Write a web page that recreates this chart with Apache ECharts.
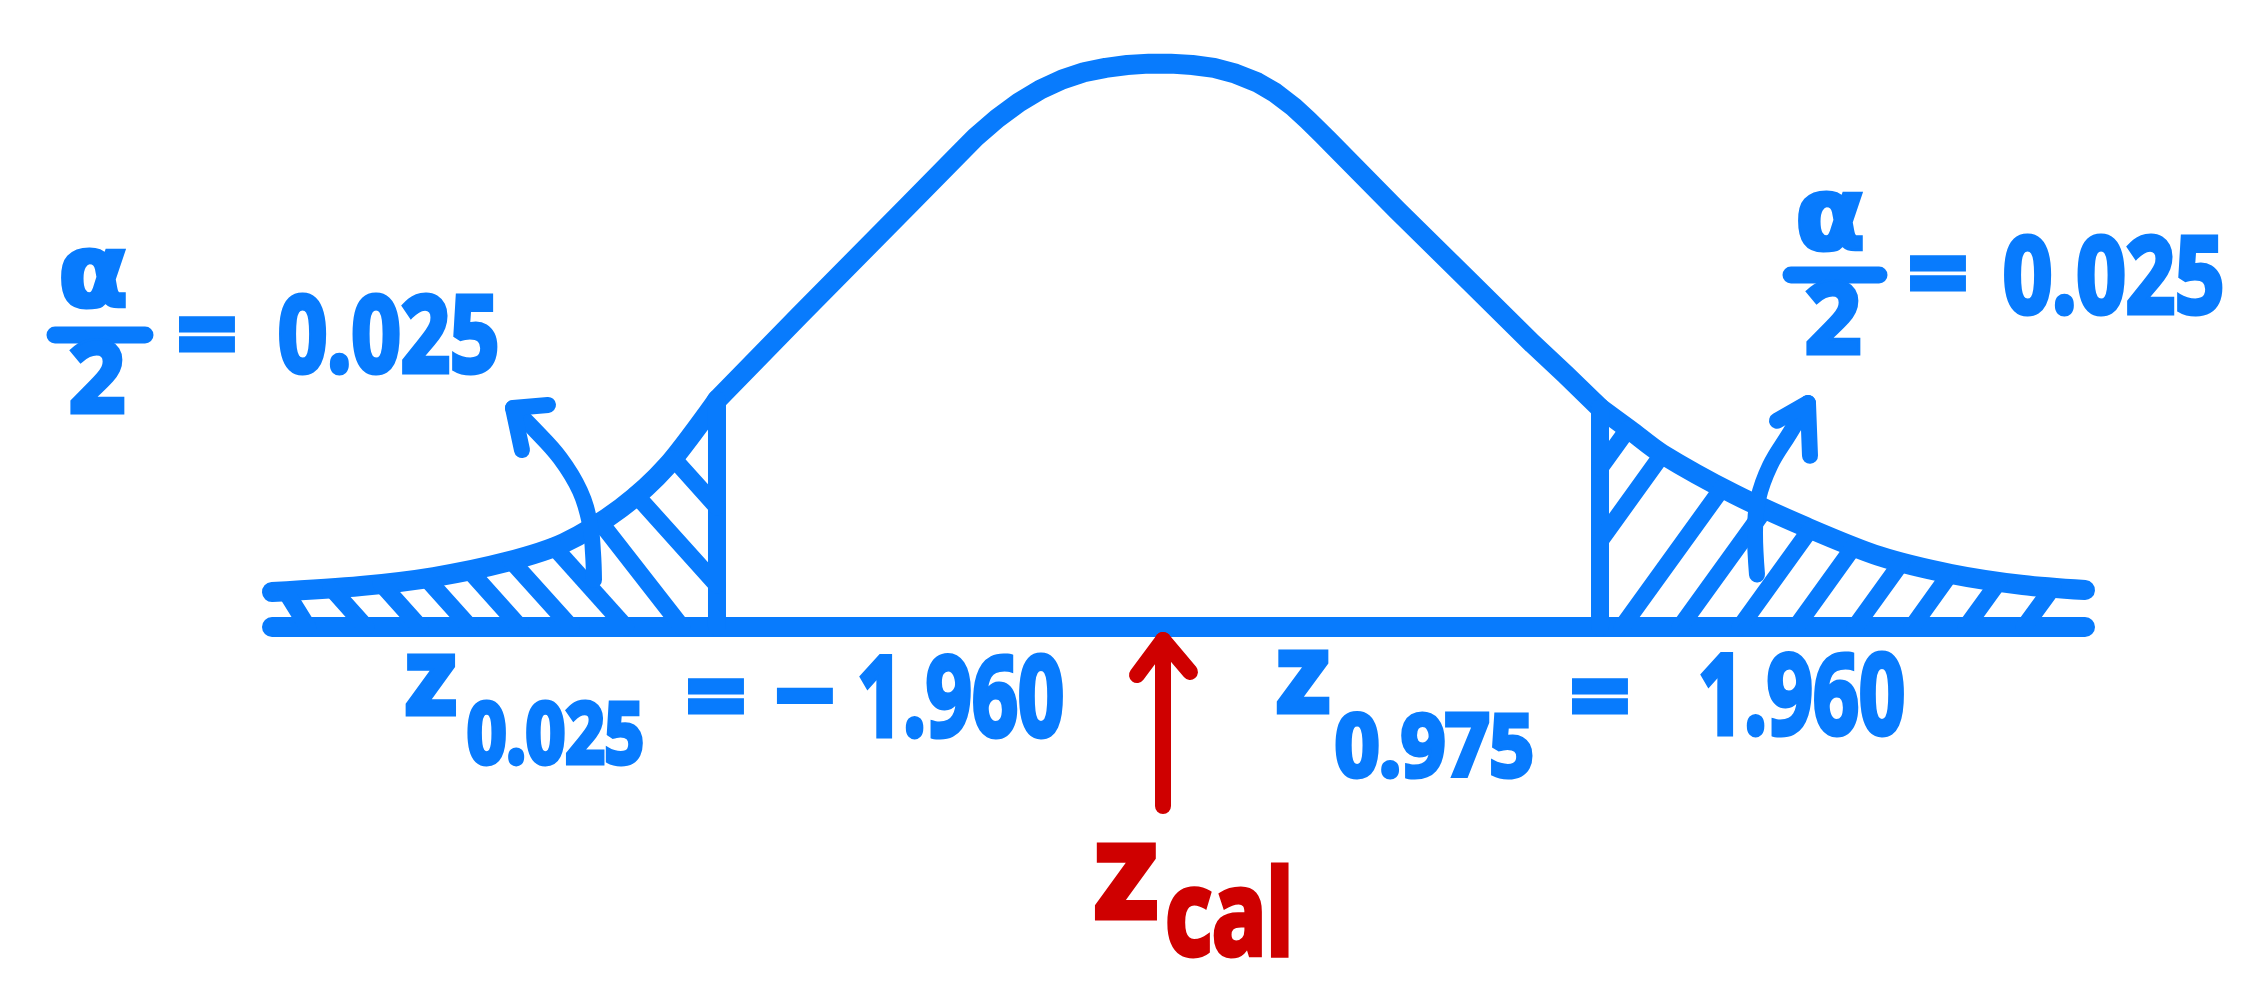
<!DOCTYPE html>
<html>
<head>
<meta charset="utf-8">
<script src="https://cdn.jsdelivr.net/npm/echarts@6/dist/echarts.min.js"></script>
<style>html,body{margin:0;padding:0;background:#ffffff}#c{width:2266px;height:1000px}</style>
</head>
<body>
<div id="c"></div>
<script>
const BLUE = '#087bfd';
const RED = '#cf0000';
const FONT = '"Noto Sans", "DejaVu Sans", sans-serif';
const GREEK_FONT = '"DejaVu Sans", "Noto Sans", sans-serif';

// hand-drawn bell curve: z value and height (density units)
const curveZ = [-3.9355,-3.5404,-3.2163,-2.8967,-2.6392,-2.3861,-2.1819,-1.96,-1.5915,-1.1032,
  -0.8892,-0.8124,-0.7161,-0.6197,-0.5238,-0.4275,-0.3312,-0.2348,-0.1385,-0.0426,0.0537,0.15,0.2464,0.3423,0.4386,0.5158,0.5993,0.6632,0.7276,0.7596,
  1.0588,1.3695,1.6625,1.8046,1.96,2.0931,2.2352,2.5548,2.8745,3.1985,3.5182,3.8378,4.113];
const curveDensity = [0.025,0.0293,0.0357,0.0464,0.06,0.085,0.115,0.1621,0.2229,0.3023,
  0.3374,0.3498,0.3632,0.3746,0.3839,0.3911,0.3962,0.3994,0.4014,0.4024,0.4024,0.4014,0.3994,0.3952,0.389,0.3818,0.3715,0.3621,0.3519,0.3467,
  0.2979,0.2486,0.2021,0.1807,0.1564,0.1407,0.1236,0.095,0.0714,0.0507,0.0379,0.03,0.0264];

// critical values
const criticalZ = [-1.96, 1.96];
const criticalTop = [0.1621, 0.1564];

// hatching of the rejection regions (segment ends)
const leftHatchTopZ = [-3.8751,-3.6735,-3.4516,-3.2518,-3.0622,-2.8744,-2.6858,-2.4816,-2.3209,-2.154];
const leftHatchTopD = [0.0256,0.0279,0.0311,0.035,0.0409,0.0475,0.0576,0.0755,0.0946,0.1204];
const leftHatchEndZ = [-3.7766,-3.5182,-3.2785,-3.0565,-2.8344,-2.6081,-2.3647,-2.1155,-1.96,-1.96];
const leftHatchEndD = [0,0,0,0,0,0,0,0,0.03,0.0857];
const rightHatchTopZ = [2.0856,2.237,2.5038,2.6947,2.8945,3.0876,3.3007,3.5137,3.7312,3.971];
const rightHatchTopD = [0.1416,0.1234,0.0995,0.0846,0.0699,0.0576,0.0466,0.0379,0.0326,0.0284];
const rightHatchEndZ = [1.96,1.96,2.0576,2.3151,2.5814,2.83,3.092,3.345,3.5847,3.8422];
const rightHatchEndD = [0.1136,0.0614,0,0,0,0,0,0,0,0];

// annotation arrows pointing at the tail areas
const leftArrowShaftZ = [-2.8656,-2.7768,-2.6569,-2.5681,-2.5237,-2.5104,-2.506];
const leftArrowShaftD = [0.1564,0.1421,0.1207,0.0971,0.0736,0.0529,0.0336];
const leftArrowHeadZ = [-2.7102,-2.8656,-2.8257];
const leftArrowHeadD = [0.1586,0.1564,0.1264];
const rightArrowShaftZ = [2.8833,2.8034,2.7146,2.6614,2.648,2.6569];
const rightArrowShaftD = [0.16,0.1386,0.1152,0.0911,0.0671,0.0375];
const rightArrowHeadZ = [2.7457,2.8833,2.8922];
const rightArrowHeadD = [0.1473,0.16,0.1223];

// z calculated marker
const zcalValue = 0.02;
const zcalArrowD = [-0.0093, -0.1279];
const zcalHeadZ = [-0.0954, 0.02, 0.1398];
const zcalHeadD = [-0.0343, -0.0093, -0.0321];

const pairs = (xs, ys) => xs.map((x, i) => [x, ys[i]]);
function lineSeries(data, color, width, smooth) {
  return {
    type: 'line', data: data, symbol: 'none', smooth: smooth || false,
    clip: false, silent: true, animation: false,
    lineStyle: { color: color, width: width, cap: 'round', join: 'round' }
  };
}

const iL = curveZ.indexOf(criticalZ[0]);
const iR = curveZ.indexOf(criticalZ[1]);

const series = [];
series.push(lineSeries([[curveZ[0], 0], [curveZ[curveZ.length - 1], 0]], BLUE, 20));
series.push(lineSeries(pairs(curveZ.slice(0, iL + 1), curveDensity.slice(0, iL + 1)), BLUE, 20, 0.3));
series.push(lineSeries(pairs(curveZ.slice(iL, iR + 1), curveDensity.slice(iL, iR + 1)), BLUE, 20));
series.push(lineSeries(pairs(curveZ.slice(iR), curveDensity.slice(iR)), BLUE, 20, 0.3));
criticalZ.forEach((z, i) => series.push(lineSeries([[z, 0], [z, criticalTop[i]]], BLUE, 18)));
leftHatchTopZ.forEach((z, i) => series.push(lineSeries([[z, leftHatchTopD[i]], [leftHatchEndZ[i], leftHatchEndD[i]]], BLUE, 17)));
rightHatchTopZ.forEach((z, i) => series.push(lineSeries([[z, rightHatchTopD[i]], [rightHatchEndZ[i], rightHatchEndD[i]]], BLUE, 17)));
series.push(lineSeries(pairs(leftArrowShaftZ, leftArrowShaftD), BLUE, 16, 0.4));
series.push(lineSeries(pairs(leftArrowHeadZ, leftArrowHeadD), BLUE, 16));
series.push(lineSeries(pairs(rightArrowShaftZ, rightArrowShaftD), BLUE, 16, 0.4));
series.push(lineSeries(pairs(rightArrowHeadZ, rightArrowHeadD), BLUE, 16));
series.push(lineSeries(zcalArrowD.map(d => [zcalValue, d]), RED, 16));
series.push(lineSeries(pairs(zcalHeadZ, zcalHeadD), RED, 16));

function T(text, x, y, size, color, align, sx, family) {
  return {
    type: 'text', x: x, y: y, scaleX: sx || 1, silent: true, z: 10,
    style: { text: text, fontSize: size, fontFamily: family || FONT, fontWeight: 'bold',
      fill: color, stroke: color, lineWidth: 5, lineJoin: 'round',
      textAlign: align || 'center', textVerticalAlign: 'middle' }
  };
}
function bar(x1, x2, y) {
  return { type: 'line', silent: true, z: 10, shape: { x1: x1, y1: y, x2: x2, y2: y },
    style: { stroke: BLUE, lineWidth: 17, lineCap: 'round' } };
}

const graphic = [
  T('α', 93, 280, 100, BLUE, 'center', 1, GREEK_FONT), bar(55, 145, 335), T('2', 97, 384, 98, BLUE),
  T('=', 207, 342, 105, BLUE), T('0.025', 278, 342, 105, BLUE, 'left', 0.82),
  T('α', 1830, 223, 100, BLUE, 'center', 1, GREEK_FONT), bar(1791, 1879, 275), T('2', 1833, 325, 98, BLUE),
  T('=', 1938, 281, 105, BLUE), T('0.025', 2003, 283, 105, BLUE, 'left', 0.82),
  T('z', 431, 684, 105, BLUE), T('0.025', 467, 739, 84, BLUE, 'left', 0.82),
  T('=', 716, 704, 105, BLUE), T('−', 805, 703, 105, BLUE),
  T('1.960', 857, 704, 112, BLUE, 'left', 0.72),
  T('z', 1303, 681, 110, BLUE), T('0.975', 1335, 751, 86, BLUE, 'left', 0.9),
  T('=', 1600, 704, 105, BLUE), T('1.960', 1698, 702, 112, BLUE, 'left', 0.72),
  T('z', 1126, 880, 132, RED), T('cal', 1165, 921, 118, RED, 'left', 0.77)
];

const chart = echarts.init(document.getElementById('c'), null, { renderer: 'canvas' });
chart.setOption({
  animation: false,
  backgroundColor: '#ffffff',
  grid: { left: 0, right: 0, top: 0, bottom: 0 },
  xAxis: { type: 'value', min: -5.14295, max: 4.91654, show: false },
  yAxis: { type: 'value', min: -0.266429, max: 0.447857, show: false },
  series: series,
  graphic: graphic
});
</script>
</body>
</html>
